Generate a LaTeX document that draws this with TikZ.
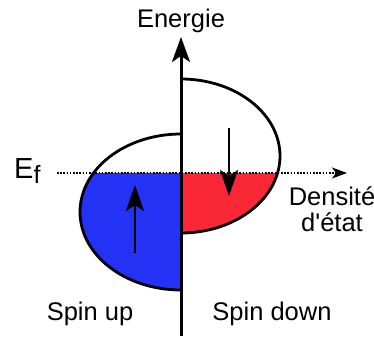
\documentclass[tikz,border=0pt]{standalone}
\usepackage{fontspec}
\setmainfont{Liberation Sans}
\usetikzlibrary{arrows.meta}
\definecolor{dosblue}{RGB}{35,50,245}
\definecolor{dosred}{RGB}{250,40,55}
\tikzset{
  band/.style={line width=2.8pt, draw=black},
  axisline/.style={line width=3pt, -{Stealth[length=25pt,width=18pt,inset=6pt]}},
  fermi/.style={line width=1.5pt, dash pattern=on 1.6pt off 1.6pt,
                -{Stealth[length=15pt,width=11pt,inset=4pt]}},
  spinarr/.style={line width=2.8pt, -{Stealth[length=26pt,width=18pt,inset=6pt]}},
  lbl/.style={font=\fontsize{25.5}{26}\selectfont, inner sep=0pt, align=center},
}

\begin{document}
\begin{tikzpicture}[x=1pt, y=-1pt]
\useasboundingbox (0,0) rectangle (374,338);
% anchor points
\coordinate (axbot) at (181,336);
\coordinate (axtop) at (181,37);
\coordinate (efstart) at (57,173);
\coordinate (efend) at (347,173);
\coordinate (upfrom) at (135,253);
\coordinate (upto) at (135,185);
\coordinate (dnfrom) at (229,128);
\coordinate (dnto) at (229,196);
% filled states below E_f
\begin{scope}
  \clip (0,173) rectangle (374,338);
  \fill[dosblue] (181,134) arc[start angle=270, end angle=90, x radius=101, y radius=78] -- cycle;
  \fill[dosred] (181,79) arc[start angle=270, end angle=450, x radius=99, y radius=77] -- cycle;
\end{scope}
% density of states outlines
\draw[band] (181,134) arc[start angle=270, end angle=90, x radius=101, y radius=78];
\draw[band] (181,79) arc[start angle=270, end angle=450, x radius=99, y radius=77];
\draw[fermi] (efstart) -- (efend);
\draw[axisline] (axbot) -- (axtop);
\draw[spinarr] (upfrom) -- (upto);
\draw[spinarr] (dnfrom) -- (dnto);
% labels
\node[lbl, anchor=base] (energie) at (181,27) {Energie};
\node[anchor=base west, inner sep=0pt, font=\fontsize{29}{29}\selectfont] (ef) at (14,178)
  {E\raisebox{-5pt}{\fontsize{25}{25}\selectfont f}};
\node[lbl, anchor=north] (dos) at (332,187) {Densité\\d\textquotesingle état};
\node[lbl, anchor=base] (up) at (90,320) {Spin up};
\node[lbl, anchor=base] (down) at (272,320) {Spin down};
\end{tikzpicture}
\end{document}
